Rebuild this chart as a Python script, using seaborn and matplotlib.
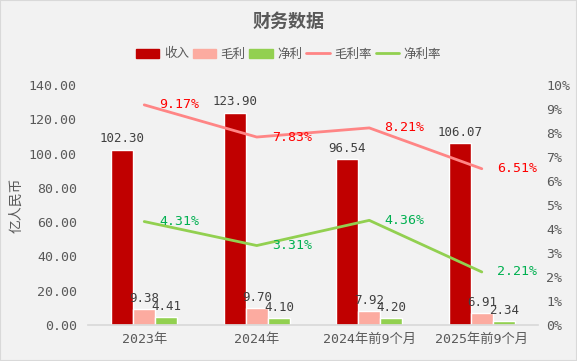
import numpy as np
import pandas as pd
import seaborn as sns
import matplotlib.pyplot as plt
from matplotlib.patches import Patch, Rectangle
from matplotlib.lines import Line2D
from matplotlib.ticker import FuncFormatter, FixedLocator

categories = ['2023年', '2024年', '2024年前9个月', '2025年前9个月']
revenue = [102.30, 123.90, 96.54, 106.07]
gross_profit = [9.38, 9.70, 7.92, 6.91]
net_profit = [4.41, 4.10, 4.20, 2.34]
gross_margin = [9.17, 7.83, 8.21, 6.51]
net_margin = [4.31, 3.31, 4.36, 2.21]

bar_names = ['收入', '毛利', '净利']
bar_colors = ['#c00000', '#fcaba0', '#92d050']
gm_color = '#ff8585'
nm_color = '#92d050'
txt = '#595959'

sns.set_theme(style='white')
plt.rcParams['font.family'] = ['DejaVu Sans Mono', 'Noto Sans CJK SC']
plt.rcParams['axes.unicode_minus'] = False

df = pd.DataFrame({
    'cat': categories * 3,
    'kind': sum([[n] * len(categories) for n in bar_names], []),
    'val': revenue + gross_profit + net_profit,
})

fig = plt.figure(figsize=(5.77, 3.61), dpi=100, facecolor='#f2f2f2')
fig.patches.append(Rectangle((0, 0), 1, 1, transform=fig.transFigure, fill=False,
                             edgecolor='#d9d9d9', linewidth=1.5))
ax = fig.add_axes([0.1525, 0.0997, 0.78, 0.665])
ax.set_facecolor('#f2f2f2')

sns.barplot(data=df, x='cat', y='val', hue='kind', palette=bar_colors,
            width=0.59, gap=0, ax=ax, legend=False, saturation=1)

# bar value labels
for cont in ax.containers:
    ax.bar_label(cont, fmt='%.2f', padding=3, fontsize=9, color='#404040')

ax.set_ylim(0, 140)
ax.set_xlim(-0.5, 3.5)
ax.set_yticks(np.arange(0, 141, 20))
ax.yaxis.set_major_formatter(FuncFormatter(lambda v, p: f'{v:.2f}'))
ax.set_xlabel('')
ax.set_ylabel('亿人民币', color=txt, fontsize=10, labelpad=4,
              family=['Noto Sans CJK SC'])
for s in ['top', 'right', 'left']:
    ax.spines[s].set_visible(False)
ax.spines['bottom'].set_color('#d9d9d9')
ax.tick_params(axis='y', colors=txt, labelsize=9.5, length=0, pad=8)
ax.tick_params(axis='x', colors=txt, labelsize=9.5, length=0, pad=6)
ax.xaxis.set_minor_locator(FixedLocator([-0.5, 0.5, 1.5, 2.5, 3.5]))
ax.tick_params(axis='x', which='minor', length=4, color='#d9d9d9', direction='out')

ax2 = ax.twinx()
sns.lineplot(x=categories, y=gross_margin, ax=ax2, color=gm_color, linewidth=2, sort=False)
sns.lineplot(x=categories, y=net_margin, ax=ax2, color=nm_color, linewidth=2, sort=False)
ax2.set_ylim(0, 10)
ax2.set_xlim(-0.5, 3.5)
ax2.set_yticks(np.arange(0, 11, 1))
ax2.yaxis.set_major_formatter(FuncFormatter(lambda v, p: f'{v:.0f}%'))
ax2.tick_params(axis='y', colors=txt, labelsize=9.5, length=0, pad=6)
for s in ['top', 'right', 'left', 'bottom']:
    ax2.spines[s].set_visible(False)

for i, v in enumerate(gross_margin):
    ax2.annotate(f'{v:.2f}%', (i, v), xytext=(11, 0), textcoords='offset points',
                 color='#ff0000', fontsize=9.5, va='center', ha='left')
for i, v in enumerate(net_margin):
    ax2.annotate(f'{v:.2f}%', (i, v), xytext=(11, 0), textcoords='offset points',
                 color='#00b050', fontsize=9.5, va='center', ha='left')

fig.text(0.5, 1 - 21 / 361, '财务数据', ha='center', va='center', fontsize=13,
         fontweight='bold', color=txt, family=['Noto Sans CJK SC'])

handles = [Patch(color=c) for c in bar_colors] + [
    Line2D([], [], color=gm_color, linewidth=2),
    Line2D([], [], color=nm_color, linewidth=2)]
labels = bar_names + ['毛利率', '净利率']
fig.legend(handles, labels, loc='center', bbox_to_anchor=(0.5, 1 - 54 / 361), ncol=5,
           frameon=False, handlelength=1.9, handleheight=0.7,
           columnspacing=0.3, handletextpad=0.35, labelcolor=txt,
           prop={'family': ['Noto Sans CJK SC'], 'size': 9})

fig.savefig('out.png', dpi=100, facecolor=fig.get_facecolor())
